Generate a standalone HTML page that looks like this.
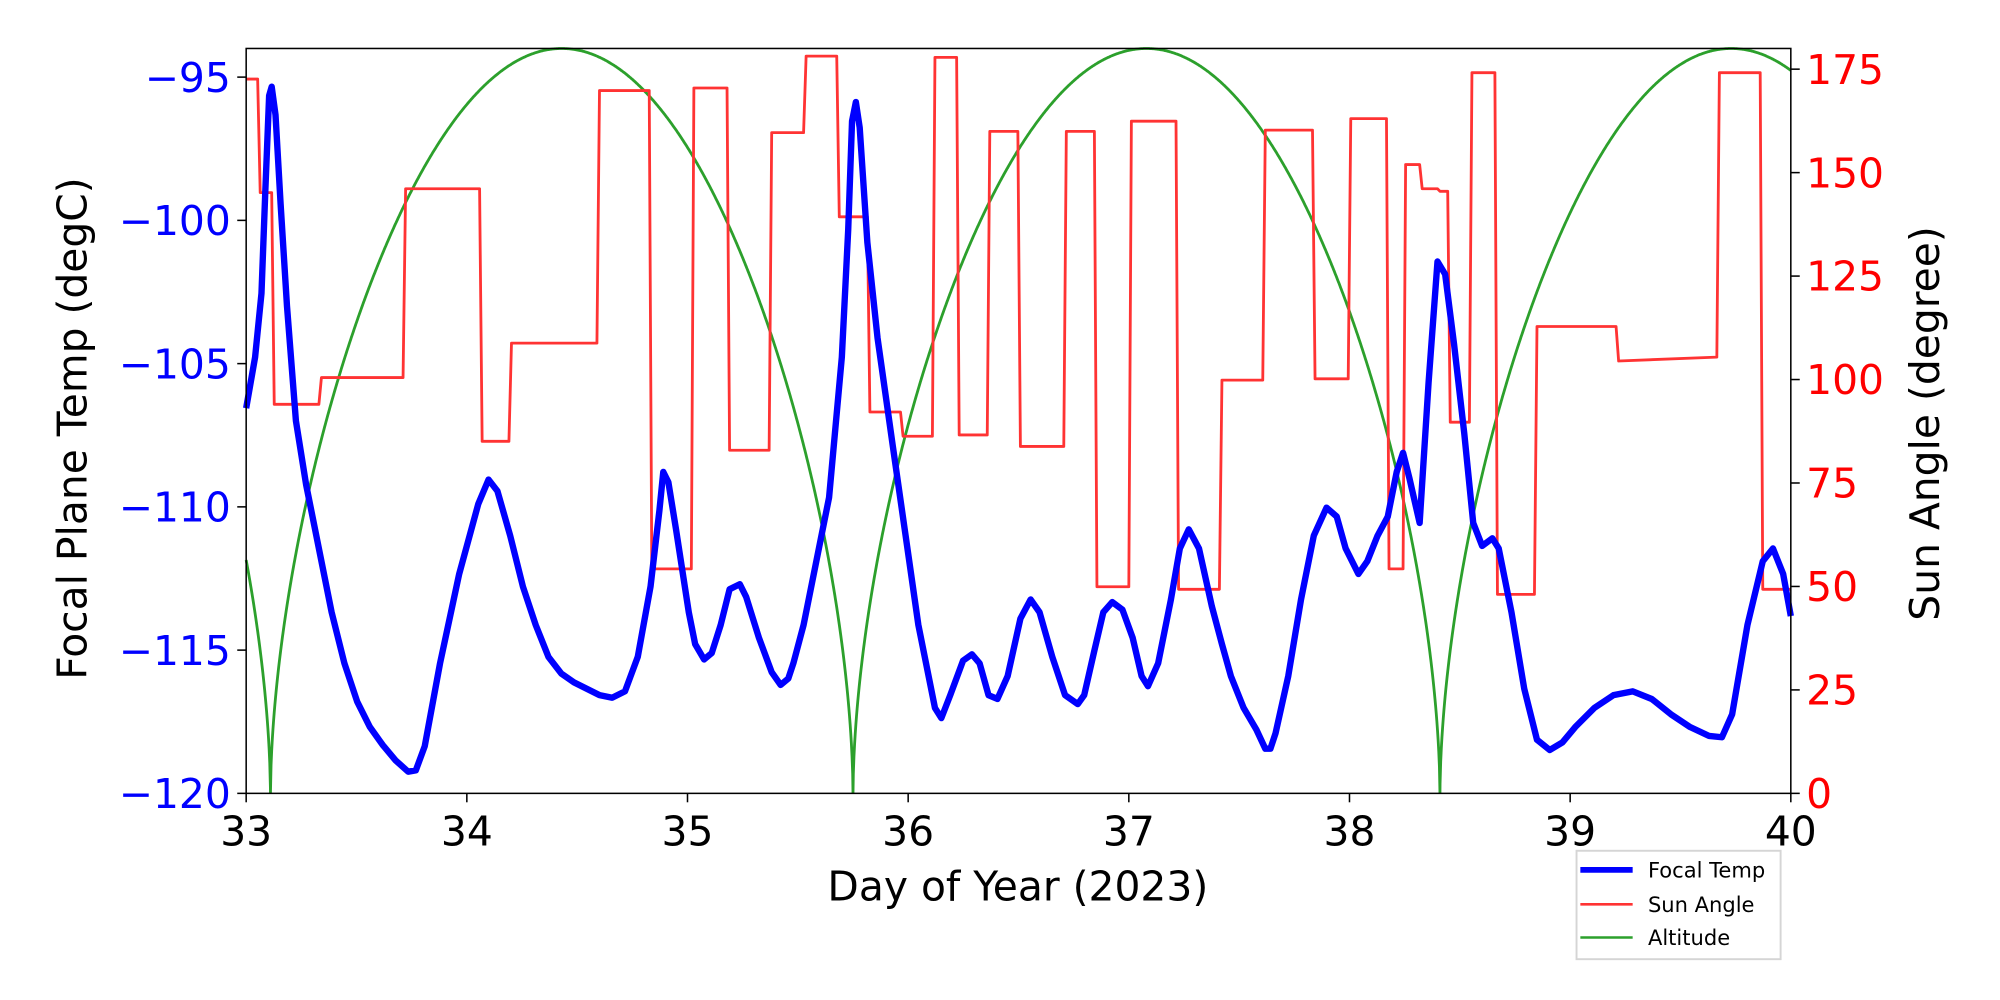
<!DOCTYPE html>
<html><head><meta charset="utf-8"><style>
html,body{margin:0;padding:0;background:#fff;width:2000px;height:1000px;overflow:hidden}
svg text{font-family:"DejaVu Sans","Liberation Sans",sans-serif}
</style></head><body>
<svg id="s" width="2000" height="1000" viewBox="0 0 1568 784" xmlns="http://www.w3.org/2000/svg">
<rect x="0" y="0" width="1568" height="784" fill="#fff"/>
<g id="plot"></g>
<rect x="193" y="38" width="1211" height="584" fill="none" stroke="#000" stroke-width="1.2"/>
<g id="ticks" stroke="#000" stroke-width="1.2"></g>
<g id="labels" font-size="32"></g>
<text x="798" y="706" font-size="32" text-anchor="middle" fill="#000">Day of Year (2023)</text>
<text transform="translate(68,336) rotate(-90)" font-size="32" text-anchor="middle" fill="#000">Focal Plane Temp (degC)</text>
<text transform="translate(1520,332) rotate(-90)" font-size="32" text-anchor="middle" fill="#000">Sun Angle (degree)</text>
<g>
<rect x="1236" y="667" width="160" height="85" fill="#fff" stroke="#d5d5d5" stroke-width="1.5"/>
<line x1="1239" y1="682" x2="1280" y2="682" stroke="#0000ff" stroke-width="4.5"/>
<line x1="1239" y1="709" x2="1280" y2="709" stroke="#ff3333" stroke-width="2"/>
<line x1="1239" y1="735" x2="1280" y2="735" stroke="#2ca02c" stroke-width="2"/>
<text x="1292" y="688" font-size="16.5">Focal Temp</text>
<text x="1292" y="715" font-size="16.5">Sun Angle</text>
<text x="1292" y="741" font-size="16.5">Altitude</text>
</g>
</svg>
<script>
const NS="http://www.w3.org/2000/svg";
function el(p,t,a,txt){const e=document.createElementNS(NS,t);for(const k in a)e.setAttribute(k,a[k]);if(txt!==undefined)e.textContent=txt;p.appendChild(e);return e;}
const plot=document.getElementById('plot'),ticks=document.getElementById('ticks'),labels=document.getElementById('labels');
// green altitude
const Z=[30.47,33.11,35.75,38.41,41.05];
function gv(d){let i=0;while(d>Z[i+1])i++;const u=(d-Z[i])/(Z[i+1]-Z[i]);return 180*Math.pow(Math.abs(Math.sin(Math.PI*u)),0.57);}
let xs=[];for(let x=193;x<=1404;x+=0.5)xs.push(x);
[1,2,3].forEach(i=>xs.push(193+(Z[i]-33)*173));xs.sort((a,b)=>a-b);
let g=xs.map(x=>x.toFixed(2)+','+(622-gv(33+(x-193)/173)/180*584).toFixed(1));
el(plot,'polyline',{points:g.join(' '),fill:'none',stroke:'#2ca02c','stroke-width':2.2});
// red sun angle
const R=[[193,202,62],[204,213,151],[215,250,317],[252,316,296],[318,376,148],[378,399,346],[401,468,269],[470,509,71],[511,542,446],[544,570,69],[572,603,353],[605,630,104],[632,656,44],[658,680,170],[682,706,323],[708,731,342],[733,750,45],[752,774,341],[776,798,103],[800,834,350],[836,858,103],[860,885,460],[887,922,95],[924,956,462],[958,990,298],[992,1029,102],[1031,1057,297],[1059,1087,93],[1089,1100,446],[1102,1113,129],[1115,1127,148],[1129,1135,150],[1137,1152,331],[1154,1172,57],[1174,1203,466],[1205,1267,256],[1269,1346,283],[1348,1380,57],[1382,1404,462]];
let r=[];R.forEach((s,i)=>{r.push(s[0]+','+s[2]);r.push(s[1]+','+(i==36?280:s[2]));});
el(plot,'polyline',{points:r.join(' '),fill:'none',stroke:'#ff3333','stroke-width':2.2,'stroke-linejoin':'round'});
// blue
const B=[[193,320],[200,280],[205,230],[208,150],[211,75],[213,68],[216,90],[220,160],[225,240],[232,330],[240,380],[250,430],[260,480],[270,520],[280,550],[290,570],[300,584],[310,596],[320,605],[326,604],[333,585],[345,520],[360,450],[375,395],[383,376],[390,385],[400,420],[410,460],[420,490],[430,515],[440,528],[450,535],[460,540],[470,545],[480,547],[490,542],[500,515],[510,460],[517,400],[520,370],[524,378],[530,415],[540,480],[545,505],[552,517],[558,512],[565,490],[572,462],[580,458],[585,468],[595,500],[605,527],[612,537],[618,532],[622,520],[630,490],[640,440],[650,390],[660,280],[665,180],[668,95],[671,80],[674,100],[680,190],[688,265],[700,350],[710,420],[720,490],[728,530],[733,555],[738,563],[745,545],[755,518],[762,513],[768,520],[775,545],[782,548],[790,530],[800,485],[808,470],[815,480],[825,515],[835,545],[845,552],[850,545],[858,510],[865,480],[872,472],[880,478],[888,500],[895,530],[900,538],[908,520],[918,470],[925,430],[932,415],[940,430],[950,475],[958,505],[965,530],[975,555],[985,572],[992,587],[996,587],[1000,575],[1010,530],[1020,470],[1030,420],[1040,398],[1048,405],[1055,430],[1065,450],[1072,440],[1080,420],[1088,405],[1095,370],[1100,355],[1105,375],[1113,410],[1120,300],[1127,205],[1133,215],[1140,270],[1148,340],[1155,410],[1162,428],[1170,422],[1175,430],[1185,480],[1195,540],[1205,580],[1215,588],[1225,582],[1235,570],[1250,555],[1265,545],[1280,542],[1295,548],[1310,560],[1325,570],[1340,577],[1350,578],[1358,560],[1370,490],[1382,440],[1390,430],[1398,450],[1404,483]];
el(plot,'polyline',{points:B.map(p=>p.join(',')).join(' '),fill:'none',stroke:'#0000ff','stroke-width':5,'stroke-linejoin':'round','stroke-linecap':'butt'});
// x ticks
for(let k=0;k<=7;k++){const x=193+173*k;el(ticks,'line',{x1:x,y1:622,x2:x,y2:629});el(labels,'text',{x:x,y:663,'text-anchor':'middle',fill:'#000'},String(33+k));}
// left ticks
for(let k=0;k<6;k++){const T=-95-5*k;const y=622-(T+120)/26*584;el(ticks,'line',{x1:186,y1:y,x2:193,y2:y});el(labels,'text',{x:181,y:y+11.5,'text-anchor':'end',fill:'#0000ff'},'\u2212'+(-T));}
// right ticks
for(let v=0;v<=175;v+=25){const y=622-v/180*584;el(ticks,'line',{x1:1404,y1:y,x2:1411,y2:y});el(labels,'text',{x:1416,y:y+11.5,fill:'#ff0000'},String(v));}
</script>
</body></html>
